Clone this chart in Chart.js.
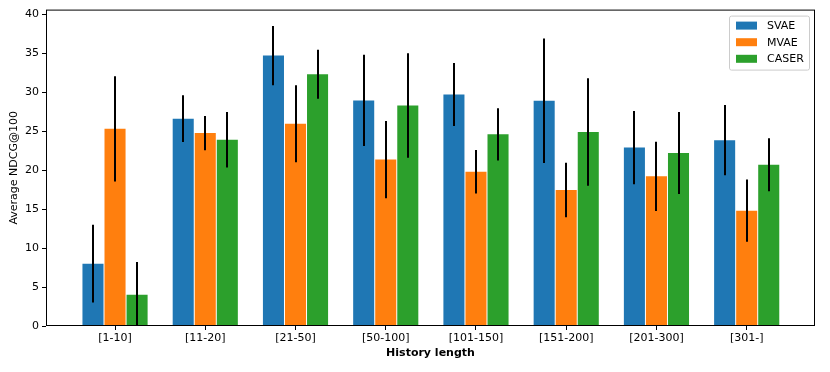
<!DOCTYPE html>
<html>
<head>
<meta charset="utf-8">
<script src="https://cdn.jsdelivr.net/npm/chart.js@4.4.1/dist/chart.umd.min.js"></script>
<style>
  html, body { margin: 0; padding: 0; background: #fff; }
  #wrap { width: 830px; height: 372px; position: relative; }
</style>
</head>
<body>
<div id="wrap"><canvas id="c"></canvas></div>
<script>
// history length buckets
const categories = ["[1-10]", "[11-20]", "[21-50]", "[50-100]", "[101-150]", "[151-200]", "[201-300]", "[301-]"];

const svae    = [8.0, 26.6, 34.7, 28.95, 29.7, 28.9, 22.9, 23.85];
const svaeErr = [5.0, 3.0, 3.8, 5.85, 4.05, 8.0, 4.7, 4.5];

const mvae    = [25.3, 24.75, 25.95, 21.35, 19.8, 17.45, 19.2, 14.8];
const mvaeErr = [6.75, 2.2, 4.95, 4.95, 2.8, 3.5, 4.45, 4.0];

const caser    = [4.0, 23.9, 32.3, 28.3, 24.6, 24.9, 22.2, 20.7];
const caserErr = [4.2, 3.55, 3.15, 6.7, 3.35, 6.9, 5.25, 3.4];

const yTicks = [0, 5, 10, 15, 20, 25, 30, 35, 40];

const COLORS = ["#1f77b4", "#ff7f0e", "#2ca02c"];
const FONT = "'DejaVu Sans', sans-serif";

function toPoints(vals, errs){
  return vals.map((v, i) => ({ x: i, y: v, err: errs[i] }));
}

function ds(label, vals, errs, color){
  return {
    label,
    data: toPoints(vals, errs),
    backgroundColor: color,
    borderWidth: 0,
    categoryPercentage: 0.733,
    barPercentage: 0.955,
  };
}

// black error bars, no caps
const errorBars = {
  id: "errorBars",
  afterDatasetsDraw(chart){
    const { ctx, chartArea, scales } = chart;
    ctx.save();
    ctx.beginPath();
    ctx.rect(chartArea.left, chartArea.top, chartArea.right - chartArea.left, chartArea.bottom - chartArea.top);
    ctx.clip();
    ctx.strokeStyle = "#000";
    ctx.lineWidth = 2;
    chart.data.datasets.forEach((d, di) => {
      const meta = chart.getDatasetMeta(di);
      meta.data.forEach((bar, i) => {
        const p = d.data[i];
        const x = Math.round(bar.x);
        ctx.beginPath();
        ctx.moveTo(x, scales.y.getPixelForValue(p.y - p.err));
        ctx.lineTo(x, scales.y.getPixelForValue(p.y + p.err));
        ctx.stroke();
      });
    });
    ctx.restore();
  }
};

// axes frame + legend box in the top-right corner
const frameAndLegend = {
  id: "frameAndLegend",
  afterDraw(chart){
    const { ctx, chartArea: a } = chart;
    ctx.save();
    ctx.strokeStyle = "#000";
    ctx.lineWidth = 1;
    ctx.strokeRect(a.left + 0.5, a.top + 0.5, a.right - a.left - 1, a.bottom - a.top - 1);

    const bx = a.right - 86, by = a.top + 6, bw = 80, bh = 54;
    ctx.fillStyle = "rgba(255,255,255,0.8)";
    ctx.strokeStyle = "#cccccc";
    ctx.beginPath();
    ctx.roundRect(bx + 0.5, by + 0.5, bw, bh, 2);
    ctx.fill();
    ctx.stroke();

    ctx.font = "11px " + FONT;
    ctx.textBaseline = "middle";
    chart.data.datasets.forEach((d, i) => {
      const ry = by + 10 + i * 16.6;
      ctx.fillStyle = d.backgroundColor;
      ctx.fillRect(bx + 7, ry - 4, 21, 8);
      ctx.fillStyle = "#000";
      ctx.fillText(d.label, bx + 38, ry + 0.5);
    });
    ctx.restore();
  }
};

new Chart(document.getElementById("c"), {
  type: "bar",
  data: {
    datasets: [
      ds("SVAE", svae, svaeErr, COLORS[0]),
      ds("MVAE", mvae, mvaeErr, COLORS[1]),
      ds("CASER", caser, caserErr, COLORS[2]),
    ]
  },
  options: {
    responsive: true,
    maintainAspectRatio: false,
    animation: false,
    layout: { padding: { left: 0, right: 15, top: 7, bottom: 0 } },
    plugins: {
      legend: { display: false },
      tooltip: { enabled: false },
    },
    scales: {
      x: {
        type: "linear",
        min: -0.765,
        max: 7.757,
        offset: false,
        afterFit: (s) => { s.height = 46; },
        afterBuildTicks: (s) => { s.ticks = categories.map((_, i) => ({ value: i })); },
        ticks: {
          color: "#000",
          font: { family: FONT, size: 11 },
          padding: 2,
          maxRotation: 0,
          autoSkip: false,
          callback: (v) => categories[v] ?? "",
        },
        grid: { display: true, offset: false, drawOnChartArea: false, drawTicks: true, tickLength: 4, color: "#000" },
        border: { display: false },
        title: {
          display: true,
          text: "History length",
          color: "#000",
          font: { family: FONT, size: 11, weight: "bold" },
          padding: { top: 0, bottom: 12 },
        },
      },
      y: {
        min: 0,
        max: 40.6,
        afterFit: (s) => { s.width = 46; },
        afterBuildTicks: (s) => { s.ticks = yTicks.map(v => ({ value: v })); },
        ticks: {
          color: "#000",
          font: { family: FONT, size: 11 },
          padding: 3,
        },
        grid: { display: true, offset: false, drawOnChartArea: false, drawTicks: true, tickLength: 4, color: "#000" },
        border: { display: false },
        title: {
          display: true,
          text: "Average NDCG@100",
          color: "#000",
          font: { family: FONT, size: 11 },
          padding: { top: 8, bottom: 2 },
        },
      }
    }
  },
  plugins: [errorBars, frameAndLegend]
});
</script>
</body>
</html>
